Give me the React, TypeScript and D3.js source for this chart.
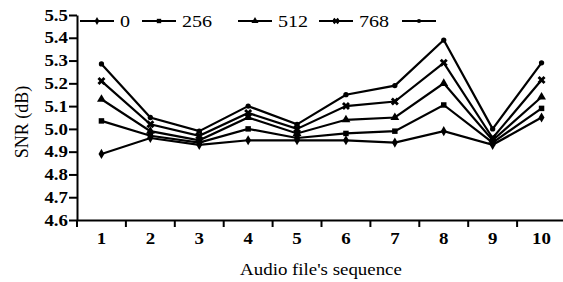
import React, { useEffect, useRef } from 'react';
import * as d3 from 'd3';

// Audio file sequence numbers (x categories)
const sequence = ['1', '2', '3', '4', '5', '6', '7', '8', '9', '10'];

// SNR values per series
const snr0 = [4.89, 4.96, 4.93, 4.95, 4.95, 4.95, 4.94, 4.99, 4.93, 5.05];
const snr256 = [5.035, 4.97, 4.94, 5.0, 4.96, 4.98, 4.99, 5.105, 4.94, 5.09];
const snr512 = [5.13, 4.99, 4.95, 5.05, 4.98, 5.04, 5.05, 5.2, 4.95, 5.14];
const snr768 = [5.21, 5.02, 4.97, 5.07, 5.0, 5.1, 5.12, 5.29, 4.96, 5.215];
const snrTop = [5.285, 5.05, 4.99, 5.1, 5.02, 5.15, 5.19, 5.39, 5.0, 5.29];

const seriesNames = ['0', '256', '512', '768', ''];
const yTicks = [4.6, 4.7, 4.8, 4.9, 5.0, 5.1, 5.2, 5.3, 5.4, 5.5];

const width = 563;
const height = 282;
const margin = { top: 15, right: -3, bottom: 62, left: 77 };

// legend entry x positions (start of each line sample)
const legendX = [80, 142, 238, 319, 402];

const symbols = [
  d3.symbol().type(d3.symbolDiamond).size(30),
  d3.symbol().type(d3.symbolSquare).size(30),
  d3.symbol().type(d3.symbolTriangle).size(34),
  d3.symbol().type(d3.symbolCross).size(40),
  d3.symbol().type(d3.symbolCircle).size(22),
];

const font = 'Liberation Serif';

const App = () => {
  const svgRef = useRef<SVGSVGElement>(null);

  useEffect(() => {
    const svg = d3.select(svgRef.current);
    svg.selectAll('*').remove();

    const series = [snr0, snr256, snr512, snr768, snrTop];

    const x = d3
      .scaleBand()
      .domain(sequence)
      .range([margin.left, width - margin.right])
      .padding(0);

    const y = d3
      .scaleLinear()
      .domain([4.6, 5.5])
      .range([height - margin.bottom, margin.top]);

    // lines
    const line = d3
      .line<number>()
      .x((_, i) => x(sequence[i])! + x.bandwidth() / 2)
      .y((d) => y(d));

    series.forEach((vals, si) => {
      svg
        .append('path')
        .datum(vals)
        .attr('d', line)
        .attr('fill', 'none')
        .attr('stroke', '#000')
        .attr('stroke-width', 2.2);

      svg
        .append('g')
        .selectAll('path')
        .data(vals)
        .enter()
        .append('path')
        .attr('d', symbols[si] as any)
        .attr('transform', (d, i) => {
          const rot = si === 3 ? 45 : 0;
          return `translate(${x(sequence[i])! + x.bandwidth() / 2},${y(d)}) rotate(${rot})`;
        })
        .attr('fill', '#000');
    });

    // y axis
    const yAxis = svg
      .append('g')
      .attr('transform', `translate(${margin.left},0)`)
      .call(
        d3
          .axisLeft(y)
          .tickValues(yTicks)
          .tickSize(8)
          .tickPadding(1)
          .tickSizeOuter(0)
          .tickFormat(d3.format('.1f') as any)
      );
    yAxis.attr('font-family', font);
    yAxis.select('.domain').attr('stroke-width', 2).attr('stroke', '#000');
    yAxis.selectAll('line').attr('stroke-width', 2).attr('stroke', '#000');
    yAxis
      .selectAll('text')
      .attr('class', 'stretch')
      .attr('fill', '#000')
      .style('font-family', font)
      .style('font-weight', 'bold')
      .style('font-size', '16px');

    // x axis: labels centred, ticks on band edges
    const xAxis = svg
      .append('g')
      .attr('transform', `translate(0,${height - margin.bottom})`)
      .call(d3.axisBottom(x).tickSize(0).tickPadding(13).tickSizeOuter(0));
    xAxis.attr('font-family', font);
    xAxis.select('.domain').attr('stroke-width', 2).attr('stroke', '#000');
    xAxis
      .selectAll('text')
      .attr('class', 'stretch')
      .attr('fill', '#000')
      .style('font-family', font)
      .style('font-weight', 'bold')
      .style('font-size', '16px');

    svg
      .append('g')
      .selectAll('line')
      .data(sequence)
      .enter()
      .append('line')
      .attr('x1', (d) => x(d)!)
      .attr('x2', (d) => x(d)!)
      .attr('y1', height - margin.bottom)
      .attr('y2', height - margin.bottom + 7)
      .attr('stroke', '#000')
      .attr('stroke-width', 2);

    // axis titles
    svg
      .append('text')
      .attr('class', 'stretch')
      .attr('x', 321)
      .attr('y', 275)
      .attr('text-anchor', 'middle')
      .style('font-family', font)
      .style('font-size', '16px')
      .text("Audio file's sequence");

    svg
      .append('text')
      .attr('transform', 'translate(28,122) rotate(-90)')
      .attr('text-anchor', 'middle')
      .style('font-family', font)
      .style('font-size', '18px')
      .text('SNR (dB)');

    // legend
    seriesNames.forEach((name, si) => {
      const g = svg.append('g').attr('transform', `translate(${legendX[si]},21)`);
      g.append('line')
        .attr('x1', 0)
        .attr('x2', 34)
        .attr('stroke', '#000')
        .attr('stroke-width', 2);
      g.append('path')
        .attr('d', symbols[si] as any)
        .attr('transform', `translate(17,0) rotate(${si === 3 ? 45 : 0}) scale(0.8)`)
        .attr('fill', '#000');
      if (name) {
        g.append('text')
          .attr('class', 'stretch')
          .attr('x', 40)
          .attr('y', 6)
          .style('font-family', font)
          .style('font-size', '17px')
          .text(name);
      }
    });

    // widen glyphs a little, the source figure is stretched horizontally
    svg.selectAll<SVGTextElement, unknown>('text.stretch').each(function () {
      const len = this.getComputedTextLength();
      d3.select(this)
        .attr('textLength', len * 1.18)
        .attr('lengthAdjust', 'spacingAndGlyphs');
    });
  }, []);

  return (
    <div style={{ position: 'fixed', left: 0, top: 0, background: '#fff' }}>
      <svg ref={svgRef} width={width} height={height} style={{ display: 'block' }} />
    </div>
  );
};

export default App;
